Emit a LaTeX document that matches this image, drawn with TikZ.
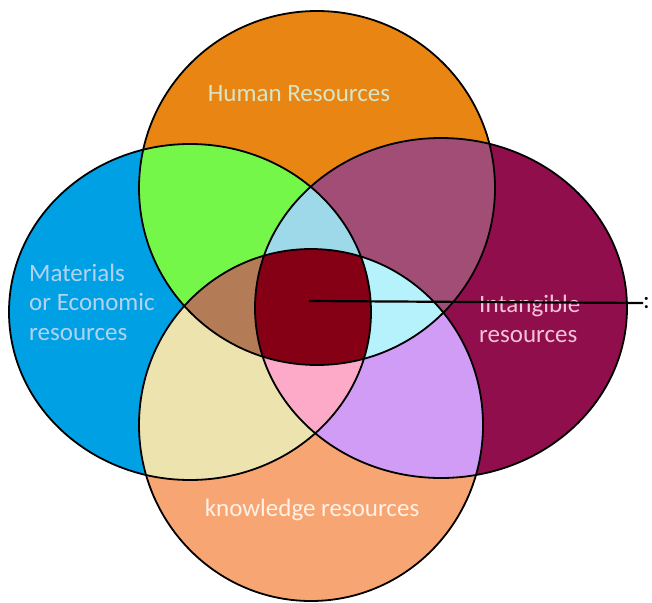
\documentclass[tikz,border=0pt]{standalone}
\usepackage{fontspec}
\setmainfont{Carlito}
\definecolor{cT}{HTML}{E98512}
\definecolor{cL}{HTML}{00A1E4}
\definecolor{cR}{HTML}{900E4C}
\definecolor{cB}{HTML}{F7A673}
\definecolor{cTL}{HTML}{75F74A}
\definecolor{cTR}{HTML}{A24D75}
\definecolor{cLB}{HTML}{EDE3AE}
\definecolor{cRB}{HTML}{D19CF5}
\definecolor{cTLR}{HTML}{9DD9E9}
\definecolor{cTRB}{HTML}{B6F2FC}
\definecolor{cLRB}{HTML}{FDAAC8}
\definecolor{cTLB}{HTML}{B47B57}
\definecolor{cAll}{HTML}{850015}
\definecolor{tHum}{HTML}{D7E6C9}
\definecolor{tMat}{HTML}{B4D2F0}
\definecolor{tInt}{HTML}{F2C4D8}
\definecolor{tKno}{HTML}{FFF1E6}
\begin{document}
\begin{tikzpicture}[x=1pt,y=-1pt,
  eT/.style={insert path={(317,188) ellipse [x radius=178pt, y radius=177pt]}},
  eL/.style={insert path={(190,312) ellipse [x radius=181pt, y radius=168pt]}},
  eR/.style={insert path={(441,308) ellipse [x radius=186pt, y radius=170pt]}},
  eB/.style={insert path={(311,425) ellipse [x radius=172pt, y radius=176pt]}},
  lbl/.style={font=\fontsize{25}{29.5}\selectfont, inner sep=0pt},
  rim/.style={draw=black, line width=1.8pt}]
\useasboundingbox (0,0) rectangle (652,602);
\clip (0,0) rectangle (652,602);
\fill[white] (0,0) rectangle (652,602);
% single sets
\fill[cT, eT];
\fill[cL, eL];
\fill[cR, eR];
\fill[cB, eB];
% pairs
\begin{scope}\clip[eT]; \fill[cTL, eL]; \end{scope}
\begin{scope}\clip[eT]; \fill[cTR, eR]; \end{scope}
\begin{scope}\clip[eL]; \fill[cLB, eB]; \end{scope}
\begin{scope}\clip[eR]; \fill[cRB, eB]; \end{scope}
% triples
\begin{scope}\clip[eT]; \clip[eL]; \fill[cTLR, eR]; \end{scope}
\begin{scope}\clip[eT]; \clip[eR]; \fill[cTRB, eB]; \end{scope}
\begin{scope}\clip[eL]; \clip[eR]; \fill[cLRB, eB]; \end{scope}
\begin{scope}\clip[eT]; \clip[eL]; \fill[cTLB, eB]; \end{scope}
% all four
\begin{scope}\clip[eT]; \clip[eL]; \clip[eR]; \fill[cAll, eB]; \end{scope}
% outlines
\draw[rim, eT];
\draw[rim, eL];
\draw[rim, eR];
\draw[rim, eB];
% labels
\node[lbl, text=tHum] (hum) at (299,94) {Human Resources};
\node[lbl, text=tMat, align=left, anchor=west] (mat) at (29,302) {Materials\\or Economic\\resources};
\node[lbl, text=tInt, align=left, anchor=west] (int) at (479,319) {Intangible\\resources};
\node[lbl, text=tKno] (kno) at (312,510) {knowledge resources};
% pointer
\coordinate (ctr) at (309,301);
\node[lbl, anchor=west] (colon) at (643,303) {:};
\draw[line width=2.2pt] (ctr) -- (colon.west);
\end{tikzpicture}
\end{document}
